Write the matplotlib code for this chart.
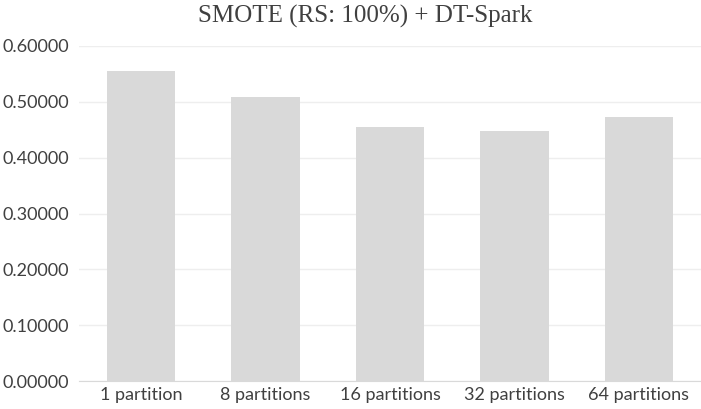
import matplotlib
matplotlib.use("Agg")
import matplotlib.pyplot as plt

categories = ["1 partition", "8 partitions", "16 partitions", "32 partitions", "64 partitions"]
values = [0.556, 0.509, 0.455, 0.448, 0.473]
yticks = [0.0, 0.1, 0.2, 0.3, 0.4, 0.5, 0.6]
title = "SMOTE (RS: 100%) + DT-Spark"

fig = plt.figure(figsize=(7.01, 4.09), dpi=100)
ax = fig.add_axes([79/701, 1-381/409, (701-79)/701, (381-46)/409])
x = list(range(len(categories)))
ax.bar(x, values, width=0.55, color="#d9d9d9", zorder=2)
ax.set_xlim(-0.5, len(categories)-0.5)
ax.set_ylim(0, 0.6)
ax.set_yticks(yticks)
ax.set_yticklabels([f"{v:.5f}" for v in yticks], fontsize=13, family="Lato", color="#404040")
ax.set_xticks(x)
ax.set_xticklabels(categories, fontsize=13, family="Lato", color="#404040")
ax.grid(axis="y", color="#eeeeee", linewidth=1, zorder=0)
for s in ["top", "right", "left"]:
    ax.spines[s].set_visible(False)
ax.spines["bottom"].set_color("#d9d9d9")
ax.tick_params(length=0, pad=4)
ax.tick_params(axis="y", pad=7)
fig.text(365/701, 1-16/409, title, ha="center", va="center", fontsize=18, family="Liberation Serif", color="#404040")
fig.savefig("out.png", dpi=100)
